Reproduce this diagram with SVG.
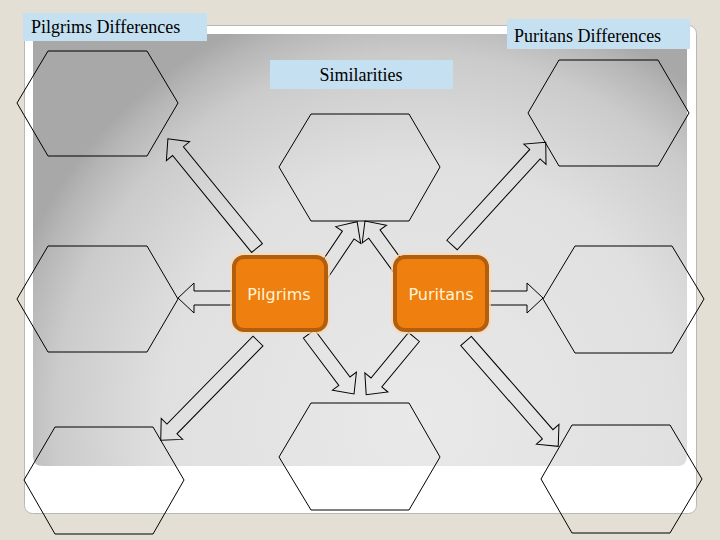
<svg xmlns="http://www.w3.org/2000/svg" width="720" height="540" viewBox="0 0 720 540">
<defs>
<radialGradient id="bg" gradientUnits="userSpaceOnUse" cx="420" cy="420" r="430">
<stop offset="0" stop-color="#e9e9e9"/>
<stop offset="0.6" stop-color="#e0e0e0"/>
<stop offset="0.85" stop-color="#cbcbcb"/>
<stop offset="0.95" stop-color="#b6b6b6"/>
<stop offset="1" stop-color="#a8a8a8"/>
</radialGradient>
<style>
.hex{fill:none;stroke:#000;stroke-width:1}
.arr{fill:none;stroke:#000;stroke-width:1;stroke-linejoin:miter}
.lbl{fill:#c5e0f1}
.lt{font-family:"Liberation Serif","Times New Roman",serif;font-size:18px;fill:#000}
.box{fill:#ef7f0e;stroke:#b15f0e;stroke-width:4}
.halo{fill:none;stroke:#fcd8ae;stroke-width:1.5}
.bt{font-family:"DejaVu Sans",Verdana,sans-serif;font-size:16px;fill:#fff4d8;text-anchor:middle}
</style>
</defs>
<rect x="0" y="0" width="720" height="540" fill="#e4dfd5"/>
<g id="panel">
<rect x="24.5" y="25.5" width="672" height="488" rx="8" fill="#ffffff" stroke="#b8b8b8" stroke-width="1"/>
<path d="M33,34 H687 V456 Q687,466 677,466 H43 Q33,466 33,456 Z" fill="url(#bg)"/>
</g>
<g id="labels">
<g id="lbl-pilgrims"><rect class="lbl" x="23" y="13" width="184" height="28"/><text class="lt" x="31" y="33">Pilgrims Differences</text></g>
<g id="lbl-similarities"><rect class="lbl" x="270" y="60" width="183" height="29"/><text class="lt" x="361" y="81" text-anchor="middle">Similarities</text></g>
<g id="lbl-puritans"><rect class="lbl" x="507" y="19" width="183" height="30"/><text class="lt" x="514" y="42">Puritans Differences</text></g>
</g>
<g id="connectors">
<path class="arr" d="M0,-7 H125 V-15 L141,0 L125,15 V7 H0 Z" transform="translate(257,248) rotate(-129.2)"/>
<path class="arr" d="M0,-7 H47 V-15 L63,0 L47,15 V7 H0 Z" transform="translate(322,274) rotate(-56.1)"/>
<path class="arr" d="M0,-7 H47 V-15 L63,0 L47,15 V7 H0 Z" transform="translate(402,272) rotate(-126)"/>
<path class="arr" d="M0,-7 H123 V-15 L139,0 L123,15 V7 H0 Z" transform="translate(452,245) rotate(-47.6)"/>
<path class="arr" d="M0,-7 H42 V-15 L58,0 L42,15 V7 H0 Z" transform="translate(236,298) rotate(180)"/>
<path class="arr" d="M0,-7 H41 V-15 L57,0 L41,15 V7 H0 Z" transform="translate(486,298)"/>
<path class="arr" d="M0,-7 H123 V-15 L139,0 L123,15 V7 H0 Z" transform="translate(258,341) rotate(134.4)"/>
<path class="arr" d="M0,-7 H59 V-15 L75,0 L59,15 V7 H0 Z" transform="translate(309,334) rotate(53.1)"/>
<path class="arr" d="M0,-7 H59 V-15 L75,0 L59,15 V7 H0 Z" transform="translate(414,337) rotate(129.6)"/>
<path class="arr" d="M0,-7 H124 V-15 L140,0 L124,15 V7 H0 Z" transform="translate(466,341) rotate(48.8)"/>
</g>
<g id="hex-pilgrims-1"><polygon class="hex" points="48,51 147,51 178,103 147,156 48,156 17,103"/></g>
<g id="hex-similar-1"><polygon class="hex" points="311,114 409,114 440,167 409,221 311,221 279,167"/></g>
<g id="hex-puritans-1"><polygon class="hex" points="559,60 658,60 689,113 658,166 559,166 528,113"/></g>
<g id="hex-pilgrims-2"><polygon class="hex" points="48,246 147,246 178,299 147,352 48,352 17,299"/></g>
<g id="hex-puritans-2"><polygon class="hex" points="575,246 672,246 704,299 672,353 575,353 543,299"/></g>
<g id="hex-pilgrims-3"><polygon class="hex" points="55,427 153,427 184,480 153,534 55,534 24,480"/></g>
<g id="hex-similar-2"><polygon class="hex" points="311,403 409,403 440,457 409,510 311,510 279,457"/></g>
<g id="hex-puritans-3"><polygon class="hex" points="572,425 670,425 702,479 670,533 572,533 541,479"/></g>
<g id="node-pilgrims">
<rect class="halo" x="231" y="254" width="98" height="79" rx="12"/>
<rect class="box" x="234" y="257" width="92" height="73" rx="10"/>
<text class="bt" x="279" y="300">Pilgrims</text>
</g>
<g id="node-puritans">
<rect class="halo" x="392" y="254" width="98" height="79" rx="12"/>
<rect class="box" x="395" y="257" width="92" height="73" rx="10"/>
<text class="bt" x="441" y="300">Puritans</text>
</g>
</svg>
